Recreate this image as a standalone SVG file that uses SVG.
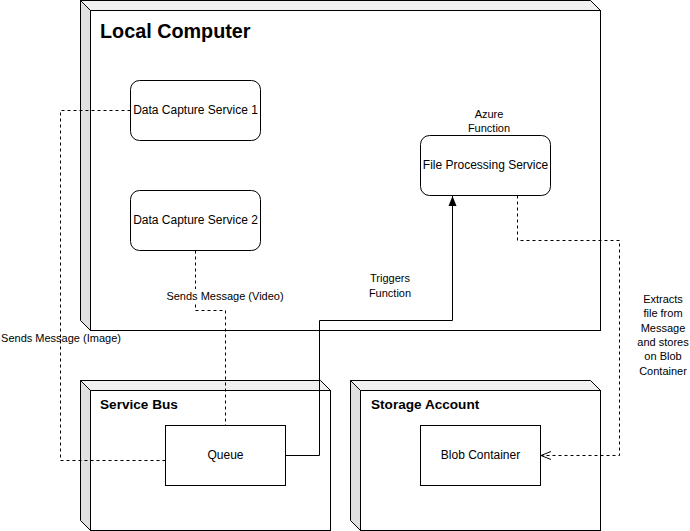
<svg xmlns="http://www.w3.org/2000/svg" width="690" height="531" viewBox="0 0 690 531">
<style>
text{font-family:"Liberation Sans",Arial,sans-serif;fill:#000}
.lbl{font-size:12px;text-anchor:middle}
.elbl{font-size:11px;text-anchor:middle}
.title{font-weight:bold;font-size:13.6px}
.face{fill:#fff;stroke:#000;stroke-width:1}
.top{fill:#f0f0f0;stroke:#000;stroke-width:1}
.side{fill:#e0e0e0;stroke:#000;stroke-width:1}
.box{fill:#fff;stroke:#000;stroke-width:1}
.dash{fill:none;stroke:#000;stroke-width:1;stroke-dasharray:3 3}
.solid{fill:none;stroke:#000;stroke-width:1}
</style>
<defs>
<marker id="arrFill" viewBox="0 0 10 10" refX="10" refY="5" markerWidth="10" markerHeight="10" markerUnits="userSpaceOnUse" orient="auto">
<path d="M0,1 L10,5 L0,9 Z" fill="#000"/>
</marker>
<marker id="arrOpen" viewBox="0 0 10 10" refX="10" refY="5" markerWidth="10" markerHeight="10" markerUnits="userSpaceOnUse" orient="auto">
<path d="M0,1 L10,5 L0,9" fill="none" stroke="#000" stroke-width="1"/>
</marker>
</defs>

<g id="local-computer">
<polygon class="top" points="80.5,0.5 590.5,0.5 600.5,10.5 90.5,10.5"/>
<polygon class="side" points="80.5,0.5 90.5,10.5 90.5,330.5 80.5,320.5"/>
<rect class="face" x="90.5" y="10.5" width="510" height="320"/>
<text x="100" y="38" style="font-weight:bold;font-size:19.8px">Local Computer</text>
</g>

<g id="service-bus">
<polygon class="top" points="80.5,380.5 320.5,380.5 330.5,390.5 90.5,390.5"/>
<polygon class="side" points="80.5,380.5 90.5,390.5 90.5,530.5 80.5,520.5"/>
<rect class="face" x="90.5" y="390.5" width="240" height="140"/>
<text class="title" x="100" y="409">Service Bus</text>
</g>

<g id="storage-account">
<polygon class="top" points="350.5,380.5 590.5,380.5 600.5,390.5 360.5,390.5"/>
<polygon class="side" points="350.5,380.5 360.5,390.5 360.5,530.5 350.5,520.5"/>
<rect class="face" x="360.5" y="390.5" width="240" height="140"/>
<text class="title" x="371" y="409">Storage Account</text>
</g>

<g id="dcs1">
<rect class="box" x="130.5" y="80.5" width="130" height="60" rx="9"/>
<text class="lbl" x="195.5" y="114">Data Capture Service 1</text>
</g>

<g id="dcs2">
<rect class="box" x="130.5" y="190.5" width="130" height="60" rx="9"/>
<text class="lbl" x="195.5" y="224">Data Capture Service 2</text>
</g>

<g id="fps">
<rect class="box" x="420.5" y="135.5" width="130" height="60" rx="9"/>
<text class="lbl" x="485.5" y="169">File Processing Service</text>
<text class="elbl" x="489" y="118">Azure</text>
<text class="elbl" x="489" y="132">Function</text>
</g>

<g id="queue">
<rect class="box" x="165.5" y="425.5" width="120" height="60"/>
<text class="lbl" x="225.5" y="459">Queue</text>
</g>

<g id="blob">
<rect class="box" x="420.5" y="425.5" width="120" height="60"/>
<text class="lbl" x="480.5" y="459">Blob Container</text>
</g>

<g id="connectors">
<polyline class="dash" points="130.5,110.5 60.5,110.5 60.5,460.5 165.5,460.5"/>
<text class="elbl" x="61" y="342">Sends Message (Image)</text>

<polyline class="dash" points="195.5,250.5 195.5,310.5 225.5,310.5 225.5,425.5"/>
<rect x="166" y="289" width="118" height="14" fill="#fff"/>
<text class="elbl" x="225" y="300">Sends Message (Video)</text>

<polyline class="solid" points="285.5,455.5 319.5,455.5 319.5,320.5 452.5,320.5 452.5,196" marker-end="url(#arrFill)"/>
<text class="elbl" x="390" y="282">Triggers</text>
<text class="elbl" x="390" y="297">Function</text>

<polyline class="dash" points="517.5,195.5 517.5,240.5 619.5,240.5 619.5,455.5 541,455.5" marker-end="url(#arrOpen)"/>
<text class="elbl" x="663" y="303">Extracts</text>
<text class="elbl" x="663" y="317">file from</text>
<text class="elbl" x="663" y="332">Message</text>
<text class="elbl" x="663" y="346">and stores</text>
<text class="elbl" x="663" y="360">on Blob</text>
<text class="elbl" x="663" y="375">Container</text>
</g>
</svg>
